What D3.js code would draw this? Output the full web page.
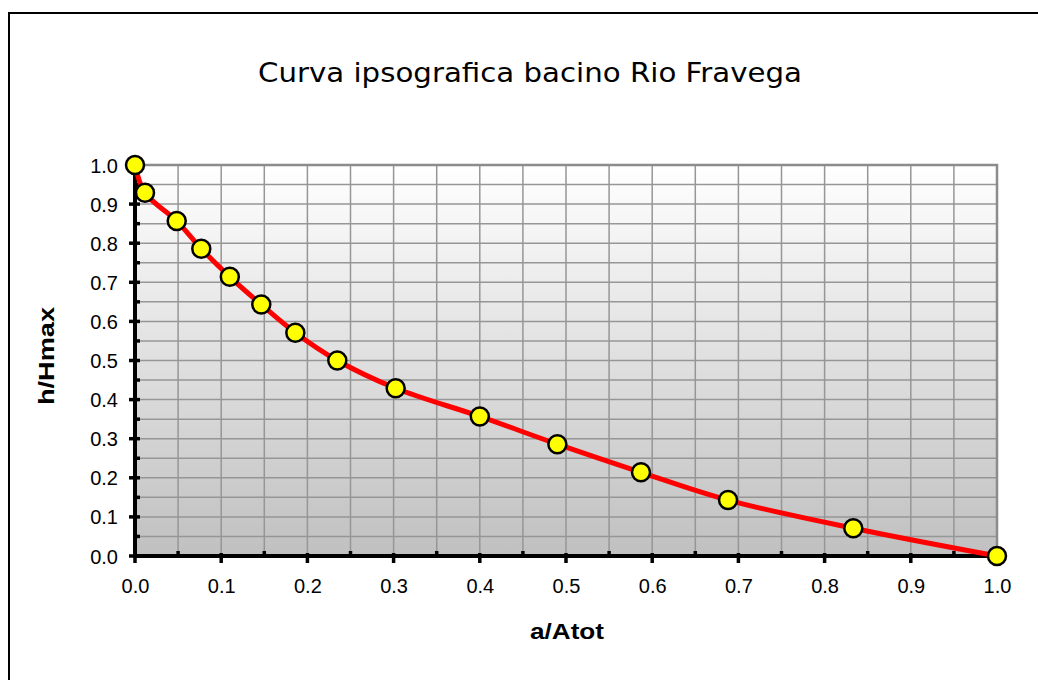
<!DOCTYPE html>
<html><head><meta charset="utf-8">
<script src="https://cdn.jsdelivr.net/npm/d3@7"></script>
<style>html,body{margin:0;padding:0;background:#fff;}svg{display:block;}</style>
</head><body>
<svg id="chart" width="1038" height="680"></svg>
<script>
const xValues = [0, 0.0116, 0.0484, 0.0769, 0.110, 0.1465, 0.186, 0.2347, 0.3024, 0.400, 0.490, 0.587, 0.688, 0.8333, 1.0];
const yValues = [1.0, 0.929, 0.857, 0.786, 0.714, 0.643, 0.571, 0.500, 0.429, 0.357, 0.286, 0.214, 0.143, 0.071, 0.0];
const tickValues = [0,0.1,0.2,0.3,0.4,0.5,0.6,0.7,0.8,0.9,1.0];
const minorValues = [0.05,0.15,0.25,0.35,0.45,0.55,0.65,0.75,0.85,0.95];
const titleText = "Curva ipsografica bacino Rio Fravega";
const xTitle = "a/Atot", yTitle = "h/Hmax";

const svg = d3.select("#chart");
const L=135, R=997, T=165, B=556;
const x = d3.scaleLinear().domain([0,1]).range([L,R]);
const y = d3.scaleLinear().domain([0,1]).range([B,T]);
const sans = "'Liberation Sans', Arial, sans-serif";

// outer border
svg.append("path").attr("d",`M9,690 L9,13 L1050,13`).attr("fill","none").attr("stroke","#000").attr("stroke-width",2);

const defs = svg.append("defs");
const g = defs.append("linearGradient").attr("id","bg").attr("x1",0).attr("y1",0).attr("x2",0).attr("y2",1);
g.append("stop").attr("offset","0%").attr("stop-color","#ffffff");
g.append("stop").attr("offset","100%").attr("stop-color","#c0c0c0");
svg.append("rect").attr("x",L).attr("y",T).attr("width",R-L).attr("height",B-T).attr("fill","url(#bg)");

const grid = d3.range(1,20).map(i=>i*0.05);
svg.append("g").selectAll("line.v").data(grid).join("line")
  .attr("x1",d=>x(d)).attr("x2",d=>x(d)).attr("y1",T).attr("y2",B)
  .attr("stroke","#969696").attr("stroke-width",1.5);
svg.append("g").selectAll("line.h").data(grid).join("line")
  .attr("y1",d=>y(d)).attr("y2",d=>y(d)).attr("x1",L).attr("x2",R)
  .attr("stroke","#969696").attr("stroke-width",1.5);
// plot border top/right
svg.append("path").attr("d",`M${L},${T} L${R},${T} L${R},${B}`).attr("fill","none").attr("stroke","#8c8c8c").attr("stroke-width",2.5);

// axes
const xAxis = d3.axisBottom(x).tickValues(tickValues).tickFormat(d3.format(".1f")).tickSize(0).tickPadding(0);
const xg = svg.append("g").attr("transform",`translate(0,${B})`).call(xAxis);
xg.select(".domain").remove();
xg.selectAll("text").attr("font-family",sans).attr("font-size",20).attr("fill","#000").attr("dy",null).attr("y",37);
const yAxis = d3.axisLeft(y).tickValues(tickValues).tickFormat(d3.format(".1f")).tickSize(0).tickPadding(0);
const yg = svg.append("g").attr("transform",`translate(${L},0)`).call(yAxis);
yg.select(".domain").remove();
yg.selectAll("text").attr("font-family",sans).attr("font-size",20).attr("fill","#000").attr("x",-17).attr("dy","0.35em");

// axis lines & ticks
svg.append("line").attr("x1",L).attr("x2",L).attr("y1",T).attr("y2",B+2).attr("stroke","#000").attr("stroke-width",4);
svg.append("line").attr("x1",L-2).attr("x2",R).attr("y1",B).attr("y2",B).attr("stroke","#000").attr("stroke-width",4);
svg.append("g").selectAll("line").data(tickValues).join("line")
  .attr("x1",L-6).attr("x2",L+5).attr("y1",d=>y(d)).attr("y2",d=>y(d)).attr("stroke","#000").attr("stroke-width",3.5);
svg.append("g").selectAll("line").data(minorValues).join("line")
  .attr("x1",L).attr("x2",L+5).attr("y1",d=>y(d)).attr("y2",d=>y(d)).attr("stroke","#000").attr("stroke-width",3.5);
svg.append("g").selectAll("line").data(tickValues).join("line")
  .attr("x1",d=>x(d)).attr("x2",d=>x(d)).attr("y1",B-3).attr("y2",B+7).attr("stroke","#000").attr("stroke-width",3.5);
svg.append("g").selectAll("line").data(minorValues).join("line")
  .attr("x1",d=>x(d)).attr("x2",d=>x(d)).attr("y1",B-5).attr("y2",B).attr("stroke","#000").attr("stroke-width",3.5);

// curve
const pts = xValues.map((v,i)=>[v,yValues[i]]);
const line = d3.line().x(d=>x(d[0])).y(d=>y(d[1])).curve(d3.curveCatmullRom.alpha(0.5));
svg.append("path").attr("d",line(pts)).attr("fill","none").attr("stroke","#ff0000").attr("stroke-width",5);
svg.append("g").selectAll("circle").data(pts).join("circle")
  .attr("cx",d=>x(d[0])).attr("cy",d=>y(d[1])).attr("r",9)
  .attr("fill","#ffff00").attr("stroke","#000").attr("stroke-width",2.5);

// titles
svg.append("text").attr("x",530).attr("y",82).attr("text-anchor","middle")
  .attr("font-family","'Comic Sans MS','DejaVu Sans',sans-serif").attr("font-size",27).attr("fill","#000")
  .attr("textLength",544).attr("lengthAdjust","spacingAndGlyphs").text(titleText);
svg.append("text").attr("x",567).attr("y",639).attr("text-anchor","middle")
  .attr("font-family",sans).attr("font-size",22).attr("font-weight","bold")
  .attr("textLength",74).attr("lengthAdjust","spacingAndGlyphs").text(xTitle);
svg.append("text").attr("transform","translate(54,356) rotate(-90)").attr("text-anchor","middle")
  .attr("font-family",sans).attr("font-size",22).attr("font-weight","bold")
  .attr("textLength",98).attr("lengthAdjust","spacingAndGlyphs").text(yTitle);
</script>
</body></html>
